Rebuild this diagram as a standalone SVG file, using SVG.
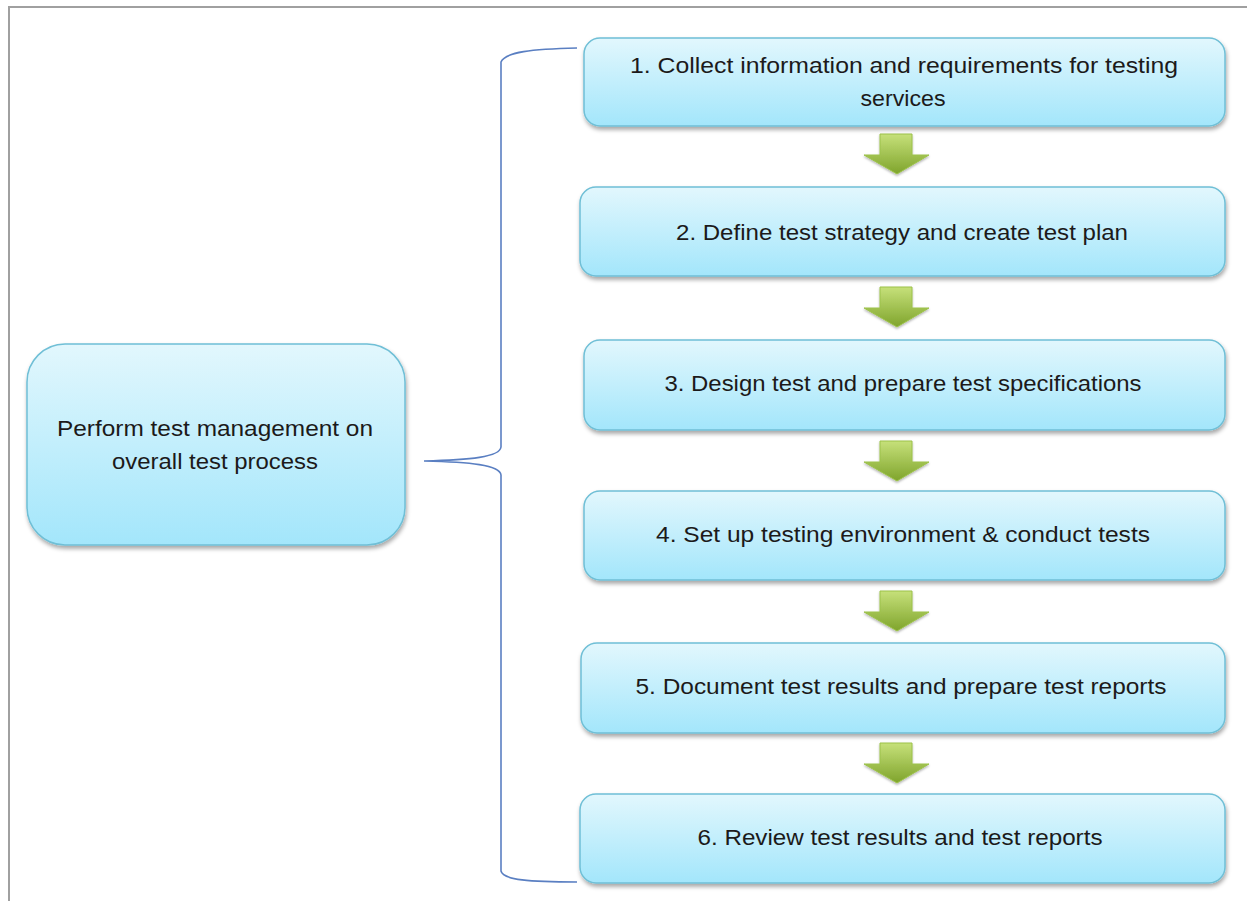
<svg xmlns="http://www.w3.org/2000/svg" width="1247" height="901" viewBox="0 0 1247 901">
<defs>
<linearGradient id="boxg" x1="0" y1="0" x2="0" y2="1">
<stop offset="0" stop-color="#e2f7fd"/>
<stop offset="1" stop-color="#a3e6fb"/>
</linearGradient>
<linearGradient id="arrg" x1="0" y1="0" x2="0" y2="1">
<stop offset="0" stop-color="#c6e07a"/>
<stop offset="1" stop-color="#7fa42c"/>
</linearGradient>
<filter id="sh" x="-5%" y="-10%" width="110%" height="130%">
<feDropShadow dx="1" dy="3" stdDeviation="2" flood-color="#000" flood-opacity="0.35"/>
</filter>
<filter id="ash" x="-20%" y="-20%" width="140%" height="150%">
<feDropShadow dx="0" dy="1.5" stdDeviation="1.2" flood-color="#000" flood-opacity="0.3"/>
</filter>
<polygon id="arrow" points="-17,0 15,0 15,21 32,21 0,40 -33,21 -17,21"/>
</defs>
<style>
.box{fill:url(#boxg);stroke:#6fbfd6;stroke-width:1.5;filter:url(#sh)}
.t{font-family:"Liberation Sans",Arial,sans-serif;font-size:22px;fill:#1c1a1a;text-anchor:middle}
.arr{fill:url(#arrg);stroke:#9cc24a;stroke-width:1;filter:url(#ash)}
.frame{fill:none;stroke:#a0a0a0;stroke-width:2}
.brace{fill:none;stroke:#5a7fc2;stroke-width:1.6}
</style>
<rect width="1247" height="901" fill="#fff"/>
<path class="frame" d="M9,901 L9,7 L1247,7"/>

<g id="connectors">
<path class="brace" d="M577,48 C532,49 505,52 501,62 L501,447 C500,457 470,460 424,461 C470,462 500,465 501,475 L501,871 C503,880 530,882 577,882"/>
<use href="#arrow" x="897" y="134" class="arr"/>
<use href="#arrow" x="897" y="287" class="arr"/>
<use href="#arrow" x="897" y="441" class="arr"/>
<use href="#arrow" x="897" y="591" class="arr"/>
<use href="#arrow" x="897" y="743" class="arr"/>
</g>

<g id="node-main">
<rect class="box" x="27" y="344" width="378" height="201" rx="38"/>
<text class="t" x="215" y="436" textLength="316" lengthAdjust="spacingAndGlyphs">Perform test management  on</text>
<text class="t" x="215" y="469" textLength="206" lengthAdjust="spacingAndGlyphs">overall test process</text>
</g>

<g id="node-1">
<rect class="box" x="584" y="38" width="641" height="88" rx="16"/>
<text class="t" x="904" y="73" textLength="548" lengthAdjust="spacingAndGlyphs">1. Collect information  and requirements  for testing</text>
<text class="t" x="903" y="106" textLength="85" lengthAdjust="spacingAndGlyphs">services</text>
</g>

<g id="node-2">
<rect class="box" x="580" y="187" width="645" height="89" rx="16"/>
<text class="t" x="902" y="240" textLength="452" lengthAdjust="spacingAndGlyphs">2. Define  test strategy and create test plan</text>
</g>

<g id="node-3">
<rect class="box" x="584" y="340" width="641" height="90" rx="16"/>
<text class="t" x="903" y="391" textLength="477" lengthAdjust="spacingAndGlyphs">3. Design test and prepare test specifications</text>
</g>

<g id="node-4">
<rect class="box" x="584" y="491" width="641" height="89" rx="16"/>
<text class="t" x="903" y="542" textLength="494" lengthAdjust="spacingAndGlyphs">4. Set up testing environment  &amp; conduct tests</text>
</g>

<g id="node-5">
<rect class="box" x="581" y="643" width="644" height="90" rx="16"/>
<text class="t" x="901" y="694" textLength="531" lengthAdjust="spacingAndGlyphs">5. Document  test results and prepare test reports</text>
</g>

<g id="node-6">
<rect class="box" x="580" y="794" width="645" height="89" rx="16"/>
<text class="t" x="900" y="845" textLength="405" lengthAdjust="spacingAndGlyphs">6. Review test results and test reports</text>
</g>
</svg>
